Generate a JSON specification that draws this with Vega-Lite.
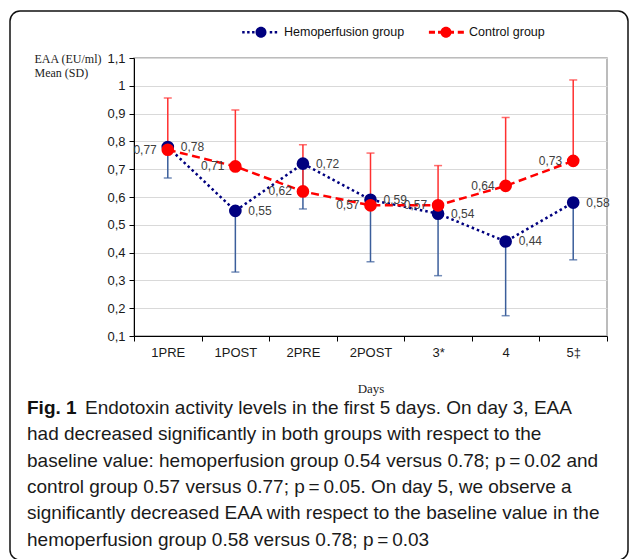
{
  "$schema": "https://vega.github.io/schema/vega-lite/v6.json",
  "width": 473,
  "height": 278,
  "autosize": {"type": "none"},
  "padding": {"left": 134, "top": 58, "right": 22, "bottom": 223},
  "background": "white",
  "config": {
    "locale": {"number": {"decimal": ",", "thousands": ".", "grouping": [3], "currency": ["", " €"]}},
    "view": {"stroke": "#A6A6A6", "strokeWidth": 1.5},
    "axis": {"labelFont": "Liberation Sans", "labelFontSize": 13, "labelColor": "#1a1a1a", "domainColor": "#000000", "domainWidth": 1, "tickColor": "#000000", "tickSize": 5}
  },
  "title": {
    "text": "Fig. 1",
    "subtitle": [
      "\u200b\u00a0\u00a0\u00a0\u00a0\u00a0\u00a0\u00a0\u00a0\u00a0\u00a0\u00a0Endotoxin activity levels in the first 5 days. On day 3, EAA",
      "had decreased significantly in both groups with respect to the",
      "baseline value: hemoperfusion group 0.54 versus 0.78; p\u2009=\u20090.02 and",
      "control group 0.57 versus 0.77; p\u2009=\u20090.05. On day 5, we observe a",
      "significantly decreased EAA with respect to the baseline value in the",
      "hemoperfusion group 0.58 versus 0.78; p\u2009=\u20090.03"
    ],
    "orient": "bottom",
    "anchor": "start",
    "frame": "group",
    "dx": -107,
    "offset": -162,
    "font": "Liberation Sans",
    "fontSize": 19,
    "fontWeight": "bold",
    "lineHeight": 19,
    "color": "#111111",
    "subtitleFont": "Liberation Sans",
    "subtitleFontSize": 19,
    "subtitleColor": "#1a1a1a",
    "subtitleLineHeight": 26.4,
    "subtitlePadding": -19
  },
  "datasets": {
    "eaa": [
      {"day": "1PRE", "group": "Hemoperfusion group", "mean": 0.78, "sdEnd": 0.668},
      {"day": "1POST", "group": "Hemoperfusion group", "mean": 0.55, "sdEnd": 0.33},
      {"day": "2PRE", "group": "Hemoperfusion group", "mean": 0.72, "sdEnd": 0.557},
      {"day": "2POST", "group": "Hemoperfusion group", "mean": 0.59, "sdEnd": 0.367},
      {"day": "3*", "group": "Hemoperfusion group", "mean": 0.54, "sdEnd": 0.317},
      {"day": "4", "group": "Hemoperfusion group", "mean": 0.44, "sdEnd": 0.173},
      {"day": "5‡", "group": "Hemoperfusion group", "mean": 0.58, "sdEnd": 0.374},
      {"day": "1PRE", "group": "Control group", "mean": 0.77, "sdEnd": 0.956},
      {"day": "1POST", "group": "Control group", "mean": 0.71, "sdEnd": 0.913},
      {"day": "2PRE", "group": "Control group", "mean": 0.62, "sdEnd": 0.788},
      {"day": "2POST", "group": "Control group", "mean": 0.57, "sdEnd": 0.758},
      {"day": "3*", "group": "Control group", "mean": 0.57, "sdEnd": 0.713},
      {"day": "4", "group": "Control group", "mean": 0.64, "sdEnd": 0.886},
      {"day": "5‡", "group": "Control group", "mean": 0.73, "sdEnd": 1.021}
    ]
  },
  "layer": [
    {
      "data": {"name": "eaa"},
      "encoding": {
        "x": {
          "field": "day", "type": "ordinal",
          "sort": ["1PRE", "1POST", "2PRE", "2POST", "3*", "4", "5‡"],
          "scale": {"type": "band", "paddingInner": 0, "paddingOuter": 0},
          "axis": {"title": "Days", "labelAngle": 0, "tickBand": "extent", "labelPadding": 5, "titleFont": "Liberation Serif", "titleFontSize": 13, "titleFontWeight": "normal", "titleColor": "#222222", "titlePadding": 23}
        },
        "y": {
          "field": "mean", "type": "quantitative",
          "scale": {"domain": [0.1, 1.1], "nice": false, "zero": false},
          "axis": {
            "values": [0.1, 0.2, 0.3, 0.4, 0.5, 0.6, 0.7, 0.8, 0.9, 1.0, 1.1],
            "tickCount": 11,
            "format": ".1~f",
            "labelOverlap": false,
            "grid": true, "gridColor": "#D9D9D9", "gridWidth": 1,
            "labelPadding": 4,
            "title": ["EAA (EU/ml)", "Mean (SD)"],
            "titleAngle": 0, "titleAlign": "left", "titleBaseline": "top",
            "titleX": -100, "titleY": -5,
            "titleFont": "Liberation Serif", "titleFontSize": 12, "titleFontWeight": "normal",
            "titleColor": "#222222", "titleLineHeight": 14
          }
        }
      },
      "layer": [
        {
          "mark": {"type": "rule", "strokeWidth": 1.5},
          "encoding": {
            "y2": {"field": "sdEnd"},
            "stroke": {"condition": {"test": "datum.group === 'Hemoperfusion group'", "value": "#3B5E9B"}, "value": "#FF3030"}
          }
        },
        {
          "mark": {"type": "tick", "size": 8, "thickness": 1.5},
          "encoding": {
            "y": {
              "field": "sdEnd", "type": "quantitative",
              "axis": {
                "values": [0.1, 0.2, 0.3, 0.4, 0.5, 0.6, 0.7, 0.8, 0.9, 1.0, 1.1],
                "tickCount": 11,
                "format": ".1~f",
                "labelOverlap": false,
                "grid": true, "gridColor": "#D9D9D9", "gridWidth": 1,
                "labelPadding": 4,
                "title": ["EAA (EU/ml)", "Mean (SD)"],
                "titleAngle": 0, "titleAlign": "left", "titleBaseline": "top",
                "titleX": -100, "titleY": -5,
                "titleFont": "Liberation Serif", "titleFontSize": 12, "titleFontWeight": "normal",
                "titleColor": "#222222", "titleLineHeight": 14
              }
            },
            "color": {"condition": {"test": "datum.group === 'Hemoperfusion group'", "value": "#3B5E9B"}, "value": "#FF3030"}
          }
        },
        {
          "mark": {"type": "line", "strokeWidth": 2.5},
          "encoding": {
            "color": {
              "field": "group", "type": "nominal",
              "scale": {"domain": ["Hemoperfusion group", "Control group"], "range": ["#00007F", "#FF0000"]},
              "legend": {
                "orient": "none", "legendX": 108, "legendY": -45, "direction": "horizontal", "title": null,
                "symbolSize": 1444, "symbolStrokeWidth": 0,
                "labelFont": "Liberation Sans", "labelFontSize": 12.5, "labelColor": "#111111",
                "columnPadding": 22, "labelOffset": 4,
                "encode": {"symbols": {"update": {
                  "shape": {"signal": "datum.value === 'Control group' ? 'M-0.9,-0.08H-0.58V0.08H-0.9ZM-0.42,-0.08H-0.1V0.08H-0.42ZM0.1,-0.08H0.42V0.08H0.1ZM0.62,-0.08H0.94V0.08H0.62ZM-0.29,0A0.29,0.29 0 1,1 0.29,0A0.29,0.29 0 1,1 -0.29,0Z' : 'M-0.99,-0.07H-0.86V0.07H-0.99ZM-0.73,-0.07H-0.6V0.07H-0.73ZM-0.47,-0.07H-0.34V0.07H-0.47ZM0.46,-0.07H0.59V0.07H0.46ZM0.72,-0.07H0.85V0.07H0.72ZM-0.29,0A0.29,0.29 0 1,1 0.29,0A0.29,0.29 0 1,1 -0.29,0Z'"},
                  "fill": {"scale": "color", "field": "value"},
                  "strokeWidth": {"value": 0}
                }}}
              }
            },
            "strokeDash": {
              "field": "group", "type": "nominal",
              "scale": {"domain": ["Hemoperfusion group", "Control group"], "range": [[2.5, 3], [8, 4.5]]},
              "legend": null
            }
          }
        },
        {
          "mark": {"type": "point", "filled": true, "size": 160, "opacity": 1},
          "encoding": {
            "fill": {
              "field": "group", "type": "nominal",
              "scale": {"domain": ["Hemoperfusion group", "Control group"], "range": ["#00007F", "#FF0000"]},
              "legend": null
            }
          }
        },
        {
          "transform": [{"filter": "datum.group === 'Hemoperfusion group'"}],
          "mark": {"type": "text", "align": "left", "baseline": "middle", "dx": 13, "font": "Liberation Sans", "fontSize": 12, "color": "#404040"},
          "encoding": {
            "text": {"field": "mean", "type": "quantitative", "format": ".2f"}
          }
        },
        {
          "transform": [{"filter": "datum.group === 'Control group'"}],
          "mark": {"type": "text", "align": "right", "baseline": "middle", "dx": -11, "font": "Liberation Sans", "fontSize": 12, "color": "#404040"},
          "encoding": {
            "text": {"field": "mean", "type": "quantitative", "format": ".2f"}
          }
        }
      ]
    },
    {
      "data": {"values": [{"a": 0, "b": 1}]},
      "mark": {"type": "rect", "fill": "transparent", "stroke": "#111111", "strokeWidth": 1.5, "cornerRadius": 10},
      "encoding": {
        "x": {"field": "a", "type": "quantitative", "scale": {"domain": [0, 1], "range": [-124, 494], "nice": false, "zero": false}, "axis": null},
        "x2": {"field": "b"},
        "y": {"field": "a", "type": "quantitative", "scale": {"domain": [0, 1], "range": [-47, 502], "nice": false, "zero": false}, "axis": null},
        "y2": {"field": "b"}
      }
    }
  ],
  "resolve": {"scale": {"x": "independent", "y": "independent"}}
}
